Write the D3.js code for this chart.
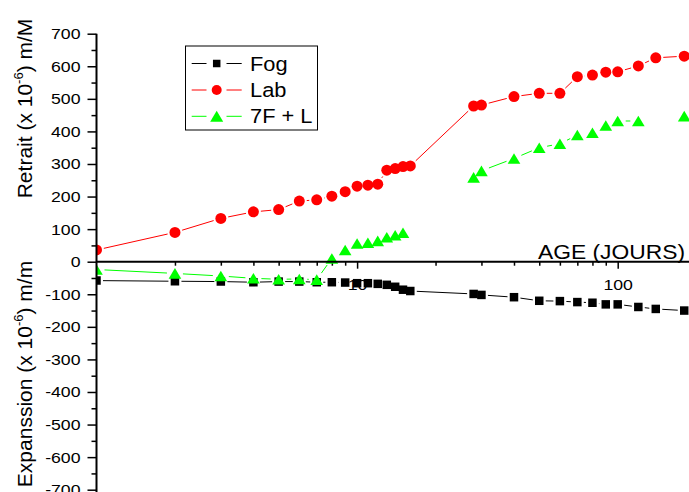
<!DOCTYPE html>
<html>
<head>
<meta charset="utf-8">
<script src="https://cdn.jsdelivr.net/npm/d3@7"></script>
<style>
  html, body { margin: 0; padding: 0; background: #fff; }
  svg { display: block; font-family: "Liberation Sans", Arial, sans-serif; }
</style>
</head>
<body>
<svg id="chart" width="689" height="492"></svg>
<script>
// Age of the specimens, in days
const days = [1, 2, 3, 4, 5, 6, 7, 8, 9, 10, 11, 12, 13, 14, 15, 16, 28, 30, 40, 50, 60, 70, 80, 90, 100, 120, 140, 180];
// Strain (x 10^-6), one value per day; null = not measured
const fog = [-58, -60, -61, -63, -61, -61, -63, -63, -64, -66, -66, -68, -71, -77, -86, -90, -99, -102, -109, -120, -121, -124, -126, -131, -131, -139, -145, -150];
const lab = [36, 90, 133, 153, 160, 186, 190, 201, 215, 232, 235, 238, 281, 286, 292, 294, 478, 481, 507, 517, 517, 568, 573, 582, 583, 601, 626, 631];
const f7l = [-24, -36, -44, -51, -54, -53, -55, 10, 36, 56, 58, 64, 75, 81, 89, null, 259, 279, 317, 350, 362, 389, 396, 418, 432, 432, null, 447];

const seriesNames = ["Fog", "Lab", "7F + L"];
const seriesColors = ["#000000", "#ff0000", "#00ff00"];
const seriesShapes = ["square", "circle", "triangle"];

const yMajorTicks = d3.range(-700, 701, 100);
const yMinorTicks = d3.range(-650, 700, 100);
const xMajorTicks = [10, 100];
const xMinorTicks = [2, 3, 4, 5, 6, 7, 8, 9, 20, 30, 40, 50, 60, 70, 80, 90, 200];

const W = 689, H = 492;
const svg = d3.select("#chart");

const x = d3.scaleLog().domain([1, 200]).range([96.5, 96.5 + 260.6 * Math.log10(200)]);
const y = d3.scaleLinear().domain([-700, 700]).range([489.7, 33.7]);
const y0 = y(0);

const TXT_STRETCH = 1.14;

// ---- Y axis ----
const yAxis = svg.append("g").attr("transform", `translate(${x(1)},0)`);
yAxis.call(d3.axisLeft(y).tickValues(yMajorTicks).tickSize(9).tickFormat(d => String(d)));
yAxis.select(".domain").remove();
yAxis.selectAll(".tick line").attr("stroke-width", 1.5);
yAxis.selectAll(".tick text")
  .attr("x", 0)
  .attr("transform", `translate(-16,0) scale(${TXT_STRETCH},1)`)
  .attr("font-size", 15.5)
  .attr("font-family", "Liberation Sans, Arial, sans-serif")
  .attr("fill", "#000");
const yMinor = svg.append("g").attr("transform", `translate(${x(1)},0)`);
yMinor.call(d3.axisLeft(y).tickValues(yMinorTicks).tickSize(5).tickFormat(""));
yMinor.select(".domain").remove();
yMinor.selectAll(".tick line").attr("stroke-width", 1.5);

// ---- X axis drawn along y = 0 ----
const xAxis = svg.append("g").attr("transform", `translate(0,${y0})`);
xAxis.call(d3.axisBottom(x).tickValues(xMajorTicks).tickSize(7).tickPadding(10).tickFormat(d => String(d)));
xAxis.select(".domain").remove();
xAxis.selectAll(".tick line").attr("stroke-width", 1.5);
xAxis.selectAll(".tick text")
  .attr("transform", `scale(${TXT_STRETCH},1)`)
  .attr("font-size", 15.5)
  .attr("font-family", "Liberation Sans, Arial, sans-serif")
  .attr("fill", "#000");
const xMinor = svg.append("g").attr("transform", `translate(0,${y0})`);
xMinor.call(d3.axisBottom(x).tickValues(xMinorTicks).tickSize(4).tickFormat(""));
xMinor.select(".domain").remove();
xMinor.selectAll(".tick line").attr("stroke-width", 1.5);

// ---- Data ----
const clip = svg.append("defs").append("clipPath").attr("id", "plotClip");
clip.append("rect").attr("x", x(1)).attr("y", 0).attr("width", W - x(1)).attr("height", H);

const plot = svg.append("g").attr("clip-path", "url(#plotClip)");

function markerPath(shape, s) {
  if (shape === "square") {
    const h = s / 2;
    return `M${-h},${-h}H${h}V${h}H${-h}Z`;
  }
  if (shape === "triangle") {
    const w = s * 0.62, hh = s * 0.52;
    return `M0,${-hh}L${w},${hh}L${-w},${hh}Z`;
  }
  const r = s / 2;
  return `M${-r},0A${r},${r} 0 1,0 ${r},0A${r},${r} 0 1,0 ${-r},0Z`;
}
const markerSize = { square: 8.5, circle: 11, triangle: 10.2 };
const lineGap = { square: 6.5, circle: 7.5, triangle: 8 };

[fog, lab, f7l].forEach((vals, i) => {
  const shape = seriesShapes[i];
  const color = seriesColors[i];
  const pts = days.map((d, j) => vals[j] == null ? null : [x(d), y(vals[j])]);
  const segs = [];
  for (let j = 0; j < pts.length - 1; j++) {
    const a = pts[j], b = pts[j + 1];
    if (!a || !b) continue;
    const dx = b[0] - a[0], dy = b[1] - a[1];
    const len = Math.hypot(dx, dy);
    const g = lineGap[shape];
    if (len <= 2 * g) continue;
    const ux = dx / len, uy = dy / len;
    segs.push([a[0] + ux * g, a[1] + uy * g, b[0] - ux * g, b[1] - uy * g]);
  }
  const grp = plot.append("g").attr("class", "series");
  grp.selectAll("line").data(segs).join("line")
    .attr("x1", s => s[0]).attr("y1", s => s[1])
    .attr("x2", s => s[2]).attr("y2", s => s[3])
    .attr("stroke", color).attr("stroke-width", 1);
  grp.selectAll("path").data(pts.filter(p => p)).join("path")
    .attr("transform", p => `translate(${p[0]},${p[1]})`)
    .attr("d", markerPath(shape, markerSize[shape]))
    .attr("fill", color);
});

// axis lines on top of the markers
svg.append("line")
  .attr("x1", x(1)).attr("x2", x(1)).attr("y1", y(700)).attr("y2", H)
  .attr("stroke", "#000").attr("stroke-width", 2);
svg.append("line")
  .attr("x1", x(1)).attr("x2", W).attr("y1", y0).attr("y2", y0)
  .attr("stroke", "#000").attr("stroke-width", 2);

// x axis title
svg.append("text")
  .attr("transform", `translate(685,258.5) scale(1.17,1)`)
  .attr("text-anchor", "end")
  .attr("font-size", 19.5)
  .attr("fill", "#000")
  .text("AGE (JOURS)");

// y axis titles
function yTitle(cx, cy, before, after) {
  const t = svg.append("text")
    .attr("transform", `translate(${cx},${cy}) rotate(-90)`)
    .attr("text-anchor", "middle")
    .attr("font-size", 21)
    .attr("fill", "#000");
  t.append("tspan").text(before);
  t.append("tspan").attr("font-size", 13).attr("dy", -9).text("-6");
  t.append("tspan").attr("dy", 9).text(after);
}
yTitle(32, 108.5, "Retrait (x 10", ") m/M");
yTitle(32, 374, "Expanssion (x 10", ") m/m");

// ---- Legend ----
const legend = svg.append("g");
legend.append("rect")
  .attr("x", 185.5).attr("y", 46).attr("width", 132).attr("height", 84)
  .attr("fill", "#fff").attr("stroke", "#000").attr("stroke-width", 1);
const legendY = [63.5, 90, 116.3];
const legendMarker = { square: 7.5, circle: 10, triangle: 10.5 };
seriesNames.forEach((name, i) => {
  const row = legend.append("g").attr("transform", `translate(0,${legendY[i]})`);
  const color = seriesColors[i];
  row.append("line").attr("x1", 191.7).attr("x2", 206.5).attr("y1", 0).attr("y2", 0)
    .attr("stroke", color).attr("stroke-width", 1);
  row.append("line").attr("x1", 226.5).attr("x2", 241.7).attr("y1", 0).attr("y2", 0)
    .attr("stroke", color).attr("stroke-width", 1);
  row.append("path")
    .attr("transform", "translate(216.7,0)")
    .attr("d", markerPath(seriesShapes[i], legendMarker[seriesShapes[i]]))
    .attr("fill", color);
  row.append("text")
    .attr("transform", `translate(250,7) scale(1.12,1)`)
    .attr("font-size", 19.5)
    .attr("fill", "#000")
    .text(name);
});
</script>
</body>
</html>
